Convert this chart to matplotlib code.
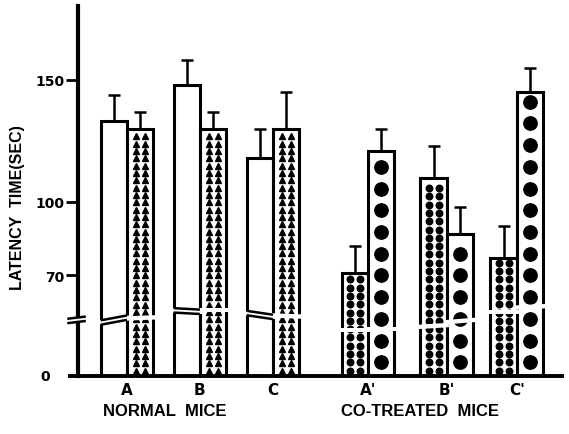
import numpy as np
import matplotlib
matplotlib.use("Agg")
import matplotlib.pyplot as plt
from matplotlib.patches import Polygon

# ------------------------------------------------------------
#  data
# ------------------------------------------------------------
groups      = ['A', 'B', 'C', "A'", "B'", "C'"]
left_vals   = [133, 148, 118, 71, 110, 77]      # white (A-C) / small dots (A'-C')
left_err    = [11, 10, 12, 11, 13, 13]
right_vals  = [130, 130, 130, 121, 87, 145]     # triangles (A-C) / big dots (A'-C')
right_err   = [7, 7, 15, 9, 11, 10]
yticks      = [70, 100, 150]

# layout
xc      = np.array([0, 1, 2, 3.30, 4.38, 5.34])   # pair centres
w       = 0.36
Y0      = 28.7                                    # where the (broken) zero sits
brk_l   = [51.6, 55.3, 53.7, 47.5, 49.2, 54.9]    # break height, left bars
brk_r   = [52.5, 55.7, 53.3, 48.0, 51.2, 57.0]    # break height, right bars
slant_l = [2.0, -0.6, -1.6, 0.0, 0.8, 0.0]
slant_r = [0.5, 0.0, -0.5, 0.0, 1.0, 0.6]

fig = plt.figure(figsize=(5.69, 4.35), dpi=100)
ax = fig.add_axes([70 / 569, 58 / 435, (562 - 70) / 569, (377 - 7) / 435])
ax.set_xlim(-0.78, 5.96)
ax.set_ylim(Y0, 180.3)

lw = 2.2
bl = ax.bar(xc - w / 2, np.array(left_vals) - Y0, width=w, bottom=Y0,
            facecolor='white', edgecolor='black', linewidth=lw, zorder=2)
br = ax.bar(xc + w / 2, np.array(right_vals) - Y0, width=w, bottom=Y0,
            facecolor='white', edgecolor='black', linewidth=lw, zorder=2)

ax.errorbar(xc - w / 2, left_vals, yerr=[np.zeros(6), left_err], fmt='none',
            ecolor='black', elinewidth=1.8, capsize=4, capthick=1.8, zorder=1)
ax.errorbar(xc + w / 2, right_vals, yerr=[np.zeros(6), right_err], fmt='none',
            ecolor='black', elinewidth=1.8, capsize=4, capthick=1.8, zorder=1)


def fill(p, cols, step, m0, m1, marker, ms):
    x0, y0, pw, ph = p.get_x(), p.get_y(), p.get_width(), p.get_height()
    ys = np.arange(y0 + m0, y0 + ph - m1, step)
    for c in cols:
        ax.plot(np.full(len(ys), x0 + c * pw), ys, ls='none', marker=marker,
                ms=ms, color='black', mec='black', zorder=3)


# patterns: triangles for normal mice, dots / big dots for co-treated
for i in range(3):
    fill(br[i], [0.33, 0.67], 3.0, 2.2, 1.8, '^', 3.9)
for i in range(3, 6):
    fill(bl[i], [0.31, 0.69], 3.4, 2.2, 1.8, 'o', 4.7)
    fill(br[i], [0.5], 8.9, 5.6, 3.0, 'o', 9.6)


def gap(p, b, s, lines):
    x0, pw = p.get_x(), p.get_width()
    xa, xb = x0 - 0.03, x0 + pw + 0.03
    h = 0.9
    poly = [(xa, b - s / 2 - h), (xb, b + s / 2 - h),
            (xb, b + s / 2 + h), (xa, b - s / 2 + h)]
    ax.add_patch(Polygon(poly, closed=True, facecolor='white',
                         edgecolor='none', zorder=4))
    if lines:
        for d in (-h, h):
            ax.plot([x0, x0 + pw], [b - s / 2 + d, b + s / 2 + d],
                    color='black', lw=1.8, zorder=5, solid_capstyle='butt')


for i in range(6):
    gap(bl[i], brk_l[i], slant_l[i], i < 3)
    gap(br[i], brk_r[i], slant_r[i], False)

# axes
for s in ('top', 'right'):
    ax.spines[s].set_visible(False)
ax.spines['left'].set_position(('data', -0.671))
ax.spines['left'].set_linewidth(3.0)
ax.spines['bottom'].set_linewidth(2.8)
ax.set_yticks(yticks)
ax.set_yticklabels([str(t) for t in yticks], fontsize=10, fontweight='bold')
ax.tick_params(axis='y', length=9, width=2, pad=1)
ax.text(-1.12, Y0, '0', ha='center', va='center', fontsize=10,
        fontweight='bold')

# break on the y axis
ax.add_patch(Polygon([(-0.74, 50.6), (-0.60, 51.4), (-0.60, 53.0), (-0.74, 52.2)],
                     closed=True, facecolor='white', edgecolor='none',
                     zorder=6, clip_on=False))
for yy in (50.8, 52.6):
    ax.plot([-0.80, -0.58], [yy - 0.4, yy + 0.4], color='black', lw=1.8,
            zorder=7, clip_on=False)

ax.set_xticks(xc)
ax.set_xticklabels(groups, fontsize=11, fontweight='bold',
                   family=['Liberation Sans Narrow', 'DejaVu Sans'])
ax.tick_params(axis='x', length=0, pad=4)

lab = dict(ha='center', va='center', fontsize=12, fontweight='bold',
           family=['Liberation Sans', 'DejaVu Sans'])
ax.text(0.52, -0.092, 'NORMAL  MICE', transform=ax.get_xaxis_transform(), **lab)
ax.text(4.02, -0.092, 'CO-TREATED  MICE', transform=ax.get_xaxis_transform(),
        **lab)

fig.text(18 / 569, 1 - 208 / 435, 'LATENCY  TIME(SEC)', rotation=90,
         ha='center', va='center', fontsize=11.5, fontweight='bold',
         family=['Liberation Sans', 'DejaVu Sans'])

fig.savefig('out.png', dpi=100)
